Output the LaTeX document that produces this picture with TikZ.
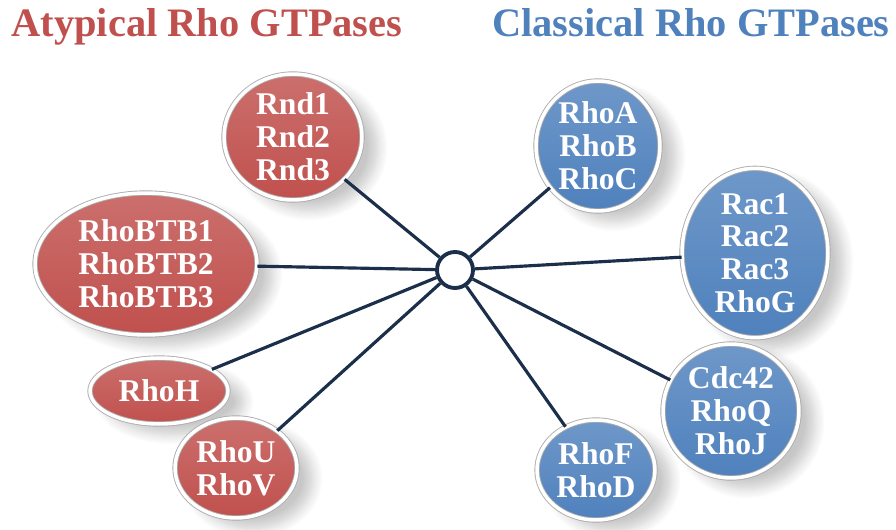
\documentclass[tikz,border=0pt]{standalone}
\usepackage{fontspec}
\setmainfont{Liberation Serif}
\usetikzlibrary{shapes.geometric}
\usetikzlibrary{shadows.blur}

\definecolor{atypred}{HTML}{C0504D}
\definecolor{classblue}{HTML}{4F81BD}
\definecolor{linknavy}{HTML}{1B2F4B}

\tikzset{
  gtpase/.style={ellipse, draw=gray!65, double=white, double distance=2pt, line width=0.5pt,
    text=white, align=center, inner sep=0pt,
    font=\bfseries\fontsize{18pt}{18.7pt}\selectfont,
    blur shadow={shadow xshift=9pt, shadow yshift=-6pt, shadow opacity=22, shadow blur steps=10, shadow blur radius=6pt}},
  atypical/.style={gtpase, top color=atypred!82!white, bottom color=atypred},
  classical/.style={gtpase, top color=classblue!82!white, bottom color=classblue},
  grouptitle/.style={anchor=base, font=\bfseries\fontsize{23pt}{23pt}\selectfont},
  link/.style={draw=linknavy, line width=1.8pt}
}

\begin{document}
\begin{tikzpicture}[x=0.02cm, y=-0.02cm]
    \useasboundingbox (0,0) rectangle (896,530);

    % Titles of the two groups
    \node[grouptitle, text=atypred] (atyptitle) at (207,37) {Atypical Rho GTPases};
    \node[grouptitle, text=classblue] (classtitle) at (691,37) {Classical Rho GTPases};

    % Central hub
    \node[circle, draw=linknavy, line width=2.2pt, fill=white, minimum size=0.72cm, inner sep=0pt] (hub) at (455,270) {};

    % Atypical members (left)
    \node[atypical, minimum width=2.76cm, minimum height=2.52cm] (rnd) at (293,137) {Rnd1\\Rnd2\\Rnd3};
    \node[atypical, minimum width=4.44cm, minimum height=2.84cm] (rhobtb) at (146,264) {RhoBTB1\\RhoBTB2\\RhoBTB3};
    \node[atypical, minimum width=2.76cm, minimum height=1.32cm] (rhoh) at (159,391) {RhoH};
    \node[atypical, minimum width=2.44cm, minimum height=2.0cm] (rhouv) at (236,468) {RhoU\\RhoV};

    % Classical members (right)
    \node[classical, minimum width=2.48cm, minimum height=2.6cm] (rhoa) at (598,146) {RhoA\\RhoB\\RhoC};
    \node[classical, minimum width=2.92cm, minimum height=3.32cm] (rac) at (755,253) {Rac1\\Rac2\\Rac3\\RhoG};
    \node[classical, minimum width=2.72cm, minimum height=2.68cm] (cdc) at (731,411) {Cdc42\\RhoQ\\RhoJ};
    \node[classical, minimum width=2.36cm, minimum height=2.0cm] (rhof) at (596,470) {RhoF\\RhoD};

    % Connect the hub to every group
    \foreach \g in {rnd,rhobtb,rhoh,rhouv,rhoa,rac,cdc,rhof}
        \draw[link] (hub) -- (\g);
\end{tikzpicture}
\end{document}
